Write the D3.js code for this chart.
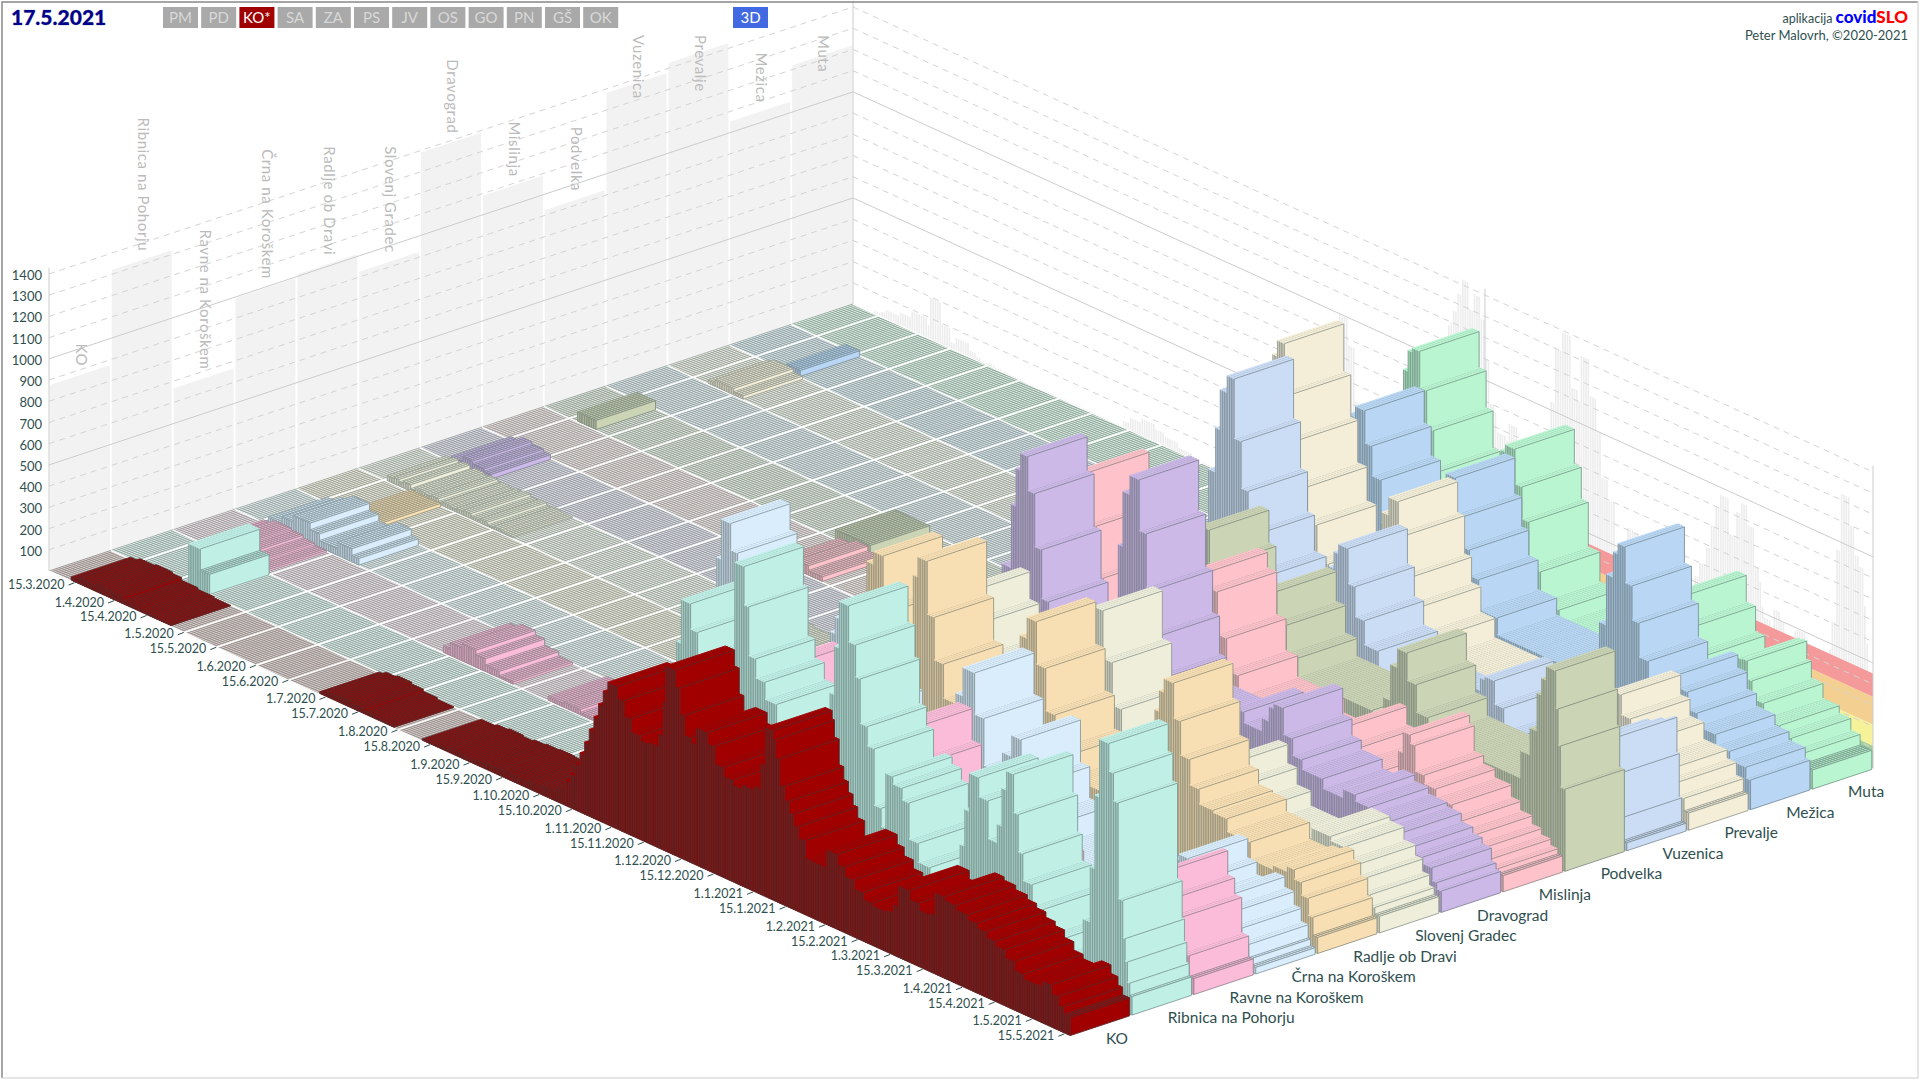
<!DOCTYPE html>
<html><head><meta charset="utf-8">
<script src="https://cdn.jsdelivr.net/npm/d3@7"></script>
<style>html,body{margin:0;padding:0;background:#fff;overflow:hidden}svg{display:block}text{font-family:Lato,"Noto Sans",sans-serif}</style>
</head><body><svg id="c" width="1920" height="1080"></svg>
<script>
const regions=["KO","Ribnica na Pohorju","Ravne na Koroškem","Črna na Koroškem","Radlje ob Dravi","Slovenj Gradec","Dravograd","Mislinja","Podvelka","Vuzenica","Prevalje","Mežica","Muta"];
const colors=["#a00000","#c0efe6","#fbbcd9","#d9edfd","#f8dfb3","#eeeedb","#ccb9e8","#fdc2ca","#ccd4b6","#cbdcf5","#f4eed8","#b9d7f4","#baf5d1"];
const dateTicks=["15.3.2020","1.4.2020","15.4.2020","1.5.2020","15.5.2020","1.6.2020","15.6.2020","1.7.2020","15.7.2020","1.8.2020","15.8.2020","1.9.2020","15.9.2020","1.10.2020","15.10.2020","1.11.2020","15.11.2020","1.12.2020","15.12.2020","1.1.2021","15.1.2021","1.2.2021","15.2.2021","1.3.2021","15.3.2021","1.4.2021","15.4.2021","1.5.2021","15.5.2021"];
const valueTicks=[100,200,300,400,500,600,700,800,900,1000,1100,1200,1300,1400];
const buttons=["PM","PD","KO*","SA","ZA","PS","JV","OS","GO","PN","GŠ","OK"];
const bandTops=[110,210,340,450];
const bandColors=["#a5cf9f","#f5f29a","#f3d092","#f59a9a"];
// runs: [day since 4.3.2020, value held until the next run]
const runsKO=[[0,0],[9,15],[13,28],[20,35],[27,28],[31,16],[38,8],[45,3],[52,0],[116,8],[119,22],[124,30],[130,22],[135,12],[141,5],[148,0],[160,5],[167,14],[172,20],[178,14],[183,22],[188,28],[194,32],[200,28],[206,32],[212,45],[218,70],[222,120],[224,160],[226,220],[228,280],[230,340],[232,410],[234,480],[236,550],[238,620],[240,672],[244,620],[247,550],[250,490],[254,470],[258,480],[262,540],[264,700],[265,875],[269,800],[271,680],[273,590],[276,570],[278,650],[283,600],[286,520],[290,480],[294,460],[298,480],[303,500],[306,620],[308,800],[311,760],[312,680],[314,560],[316,500],[318,450],[320,400],[322,350],[325,270],[331,270],[334,355],[339,310],[342,270],[346,230],[350,200],[354,190],[360,200],[363,240],[365,340],[370,300],[374,270],[379,280],[381,385],[385,370],[390,350],[395,330],[399,310],[403,285],[407,265],[411,230],[415,190],[419,170],[425,175],[427,200],[431,160],[434,120],[436,85]];
const runsRibnica=[[0,0],[33,195],[38,95],[42,0],[205,87],[215,174],[225,261],[238,261],[241,522],[243,783],[245,990],[249,870],[252,435],[256,350],[262,435],[265,870],[268,1280],[272,1100],[274,870],[277,780],[281,700],[286,522],[292,435],[300,350],[306,522],[309,870],[311,1100],[313,1320],[317,1150],[320,1000],[322,790],[325,700],[328,435],[331,350],[333,610],[336,575],[340,520],[343,350],[347,261],[352,174],[357,174],[362,261],[365,435],[367,610],[369,790],[373,700],[377,522],[381,610],[383,790],[385,880],[388,700],[390,525],[392,400],[396,300],[400,174],[405,87],[413,174],[418,348],[421,609],[423,957],[425,1230],[429,1100],[431,970],[433,520],[435,345],[436,240],[437,145],[438,87]];
const runsRavne=[[0,0],[13,18],[18,38],[25,30],[30,18],[35,9],[40,0],[116,30],[119,60],[124,80],[130,60],[134,30],[140,10],[146,0],[161,18],[168,25],[175,12],[180,0],[205,20],[215,45],[225,110],[232,210],[243,210],[250,340],[254,500],[256,610],[258,666],[263,500],[268,300],[272,200],[292,180],[302,220],[308,440],[310,560],[312,650],[318,500],[322,300],[326,200],[342,200],[348,320],[351,400],[354,450],[358,340],[362,220],[366,150],[396,150],[408,210],[416,260],[420,340],[424,440],[426,530],[428,416],[431,340],[434,173],[437,75]];
const runsCrna=[[0,0],[14,31],[20,62],[25,93],[32,62],[36,31],[44,62],[50,31],[53,0],[195,31],[200,186],[203,434],[205,620],[207,806],[209,995],[213,870],[216,620],[219,370],[222,186],[226,124],[250,186],[254,560],[256,700],[258,780],[262,620],[266,400],[270,250],[280,186],[300,248],[307,500],[310,680],[313,815],[318,620],[322,400],[326,340],[330,500],[334,600],[338,400],[342,250],[350,155],[398,217],[402,310],[404,372],[406,400],[410,310],[414,250],[422,300],[426,250],[430,186],[433,124],[436,62],[437,31]];
const runsRadlje=[[0,0],[23,16],[36,0],[210,16],[220,64],[228,160],[235,240],[240,430],[243,700],[245,880],[248,940],[252,700],[256,430],[262,500],[265,915],[267,1010],[271,760],[274,560],[278,400],[284,300],[302,350],[308,640],[311,860],[314,960],[318,760],[322,560],[326,400],[332,300],[360,336],[366,500],[369,800],[371,900],[373,965],[377,800],[380,640],[384,520],[388,450],[394,440],[400,380],[410,300],[420,320],[426,345],[429,300],[432,240],[435,160],[437,75]];
const runsSlovenjGradec=[[0,0],[12,24],[15,30],[17,18],[19,30],[22,12],[24,24],[28,18],[31,24],[34,12],[36,18],[39,12],[42,18],[45,24],[48,12],[52,18],[55,6],[58,12],[61,6],[66,0],[150,6],[160,12],[170,6],[180,0],[205,12],[215,40],[225,100],[240,200],[248,400],[252,560],[256,680],[259,730],[263,600],[267,450],[271,300],[276,220],[296,260],[304,560],[310,800],[313,885],[316,925],[320,700],[324,500],[328,360],[332,260],[354,240],[364,350],[367,420],[370,470],[374,380],[378,300],[384,230],[402,200],[406,300],[410,350],[418,330],[424,270],[429,220],[432,160],[435,110],[437,78]];
const runsDravograd=[[0,0],[13,22],[18,44],[22,33],[27,22],[30,0],[206,22],[216,60],[226,240],[236,300],[244,420],[250,700],[254,1000],[256,1180],[258,1260],[261,1100],[264,850],[267,620],[270,440],[274,320],[284,300],[292,500],[297,760],[300,1040],[302,1300],[305,1390],[309,1150],[312,900],[315,700],[318,520],[321,400],[340,300],[350,520],[354,470],[362,530],[365,600],[367,624],[371,500],[375,420],[379,375],[388,330],[397,370],[402,340],[408,310],[416,290],[422,250],[427,220],[431,190],[435,130],[437,100]];
const runsMislinja=[[0,0],[128,22],[135,44],[140,22],[146,0],[210,22],[220,90],[230,260],[240,340],[248,480],[252,780],[255,960],[258,1090],[261,850],[264,620],[267,440],[272,300],[290,300],[300,560],[304,720],[306,800],[308,873],[312,800],[316,600],[320,450],[325,350],[345,280],[362,330],[366,400],[369,445],[372,360],[376,300],[386,240],[392,320],[394,440],[396,540],[399,500],[401,380],[405,340],[410,300],[417,243],[421,200],[426,160],[430,130],[434,100],[437,76]];
const runsPodvelka=[[0,0],[14,43],[22,0],[125,43],[140,0],[215,43],[225,129],[235,300],[245,430],[270,520],[276,640],[279,760],[282,845],[286,690],[289,520],[293,430],[300,400],[306,560],[309,640],[311,700],[315,560],[319,430],[324,344],[356,300],[361,430],[364,600],[367,690],[371,560],[375,430],[380,344],[414,344],[420,473],[424,600],[427,780],[429,860],[431,925],[435,750],[436,580],[437,387]];
const runsVuzenica=[[0,0],[205,37],[215,111],[225,222],[235,300],[245,444],[254,600],[259,900],[262,1110],[264,1300],[267,1380],[270,1100],[273,880],[276,690],[279,520],[284,370],[300,333],[307,560],[311,700],[313,780],[315,825],[319,660],[322,520],[326,407],[332,300],[358,260],[366,370],[372,440],[376,500],[378,516],[382,407],[386,300],[392,222],[414,260],[422,444],[428,480],[434,516],[435,350],[436,146],[437,37]];
const runsPrevalje=[[0,0],[17,15],[20,30],[28,15],[32,0],[210,15],[220,60],[230,210],[240,360],[250,510],[254,900],[257,1200],[260,1350],[262,1425],[265,1200],[268,1000],[271,800],[275,640],[279,480],[284,360],[292,300],[300,540],[304,690],[307,840],[310,925],[314,780],[317,600],[320,480],[324,360],[330,270],[352,240],[392,240],[400,360],[403,450],[406,494],[410,400],[414,320],[420,240],[430,200],[434,140],[437,81]];
const runsMezica=[[0,0],[24,28],[30,0],[215,28],[225,112],[235,280],[245,392],[255,560],[262,900],[266,1000],[269,1052],[273,900],[276,760],[280,560],[286,420],[294,420],[302,700],[306,860],[308,930],[312,760],[315,620],[318,500],[322,360],[330,280],[358,252],[368,336],[374,560],[377,800],[380,920],[382,970],[385,800],[388,640],[391,480],[395,340],[400,330],[405,482],[408,420],[412,340],[416,280],[424,230],[430,190],[437,140]];
const runsMuta=[[0,0],[205,30],[215,90],[225,300],[235,420],[245,540],[255,690],[260,960],[263,1100],[265,1200],[267,1220],[270,1050],[273,876],[276,700],[279,520],[283,390],[288,330],[298,660],[302,820],[305,930],[307,964],[311,800],[314,650],[317,440],[322,300],[330,240],[350,240],[365,330],[372,450],[376,570],[379,620],[381,645],[385,520],[389,400],[393,300],[398,260],[404,420],[407,460],[409,465],[411,380],[413,300],[418,230],[425,195],[430,140],[434,90]];
const allRuns=[runsKO,runsRibnica,runsRavne,runsCrna,runsRadlje,runsSlovenjGradec,runsDravograd,runsMislinja,runsPodvelka,runsVuzenica,runsPrevalje,runsMezica,runsMuta];

const startDay=new Date(2020,2,4), nDays=439, bandStart=300, axisTop=1430, wallMark=272;
const parse=d3.timeParse("%-d.%-m.%Y");
const series=allRuns.map(r=>{const a=new Array(nDays).fill(0);r.forEach((p,k)=>{const e=k+1<r.length?r[k+1][0]:nDays;for(let d=p[0];d<e;d++)a[d]=p[1];});return a;});
const maxByRegion=series.map(s=>d3.max(s));
const maxByDay=d3.range(nDays).map(d=>d3.max(series,s=>s[d]));

const dayX=d3.scaleLinear().domain([0,nDays]).range([0,1020]),dayY=d3.scaleLinear().domain([0,nDays]).range([0,465]);
const regX=d3.scaleLinear().domain([0,regions.length]).range([0,804]),regY=d3.scaleLinear().domain([0,regions.length]).range([0,-267]);
const valH=d3.scaleLinear().domain([0,1400]).range([0,297]);
const P=(d,r,v=0)=>[49+dayX(d)+regX(r),571+dayY(d)+regY(r)-valH(v)];
const poly=pts=>"M"+pts.map(p=>p[0].toFixed(2)+","+p[1].toFixed(2)).join("L")+"Z";
const svg=d3.select("#c");
const ink="#2f4f4f";
const last=regions.length;

// walls
const left=svg.append("g");
left.selectAll("path").data(regions).join("path").attr("fill","#f2f2f2")
 .attr("d",(n,i)=>poly([P(0,i+.015),P(0,i+.985),P(0,i+.985,maxByRegion[i]),P(0,i+.015,maxByRegion[i])]));
const right=svg.append("g");
right.selectAll("path.s").data(maxByDay).join("path").attr("class","s").attr("fill","#ededed")
 .attr("d",(v,d)=>poly([P(d+.15,last),P(d+.85,last),P(d+.85,last,v),P(d+.15,last,v)]));
bandTops.forEach((t,k)=>{const lo=k?bandTops[k-1]:0;right.append("path").attr("fill",bandColors[k])
 .attr("d",poly([P(bandStart,last,lo),P(nDays,last,lo),P(nDays,last,t),P(bandStart,last,t)]));});
const grid=svg.append("g").attr("fill","none");
valueTicks.forEach(v=>{const solid=v%500===0;
 grid.append("path").attr("d",d3.line()([P(0,0,v),P(0,last,v),P(nDays,last,v)])).attr("stroke",solid?"#ccc":"#d4d4d4").attr("stroke-dasharray",solid?null:"6,5");
});
[[0,0],[0,last],[wallMark,last],[nDays,last]].forEach(c=>grid.append("line").attr("x1",P(c[0],c[1])[0]).attr("y1",P(c[0],c[1])[1]).attr("x2",P(c[0],c[1])[0]).attr("y2",P(c[0],c[1],axisTop)[1]).attr("stroke","#ccc"));

// wall labels, kept below the top of the chart
svg.append("g").selectAll("text").data(regions).join("text").attr("fill","#bbb").attr("font-size",15).attr("letter-spacing",.6)
 .attr("dominant-baseline","middle").text(n=>n)
 .attr("transform",function(n,i){const p=P(0,i+.5,maxByRegion[i]),w=this.getComputedTextLength();return `translate(${p[0]},${Math.max(35,p[1]-9-w)}) rotate(90)`;});

// floor: zero-value days
const cells=[];
series.forEach((s,i)=>s.forEach((v,d)=>cells.push({i,d,v})));
const floorFill=regions.map((n,i)=>d3.interpolateRgb(colors[i],"#fff")(i===0?.85:.7));
const strokeOf=regions.map((n,i)=>i===0?"#5e2626":d3.interpolateRgb(colors[i],"#4a5a58")(.55));
const sideOf=regions.map((n,i)=>i===0?"#7a1212":d3.color(colors[i]).darker(.5).formatHex());
const floorStroke=regions.map((n,i)=>d3.interpolateRgb(i===0?"#a06060":colors[i],"#7d8c85")(.88));
svg.append("g").attr("stroke-width",.8).selectAll("path").data(cells.filter(c=>c.v===0)).join("path")
 .attr("fill",c=>floorFill[c.i]).attr("stroke",c=>floorStroke[c.i])
 .attr("d",c=>poly([P(c.d,c.i),P(c.d+1,c.i),P(c.d+1,c.i+1),P(c.d,c.i+1)]));
// white floor grid
const tickDays=dateTicks.map(t=>d3.timeDay.count(startDay,parse(t)));
const white=svg.append("g").attr("stroke","#fff").attr("stroke-width",1.5).attr("fill","none");
tickDays.forEach(d=>white.append("path").attr("d",d3.line()([P(d,0),P(d,last)])));
d3.range(0,last+1).forEach(r=>white.append("path").attr("d",d3.line()([P(0,r),P(nDays,r)])));

// bars, painted far to near
const bars=cells.filter(c=>c.v>0).sort((a,b)=>d3.descending(a.i,b.i)||d3.ascending(a.d,b.d));
const g=svg.append("g").attr("stroke-width",.9).attr("stroke-linejoin","round");
const a=.02,b=.98;
const faces=[];
bars.forEach(c=>{const{i,d,v}=c;
 faces.push({i,f:sideOf[i],s:1,p:[P(d,i+a),P(d+1,i+a),P(d+1,i+a,v),P(d,i+a,v)]});
 faces.push({i,f:colors[i],s:v<100?1:0,p:[P(d,i+a,v),P(d+1,i+a,v),P(d+1,i+b,v),P(d,i+b,v)]});
 faces.push({i,f:colors[i],s:1,p:[P(d+1,i+a),P(d+1,i+b),P(d+1,i+b,v),P(d+1,i+a,v)]});
});
g.selectAll("path").data(faces).join("path").attr("fill",q=>q.f).attr("stroke",q=>q.s?strokeOf[q.i]:q.f).attr("d",q=>poly(q.p));

// axes text
const ax=svg.append("g").attr("fill",ink);
valueTicks.forEach(v=>ax.append("text").attr("x",42).attr("y",P(0,0,v)[1]+6).attr("text-anchor","end").attr("font-size",13).text(v));
dateTicks.forEach((t,k)=>{const p=P(tickDays[k],0);
 ax.append("line").attr("x1",p[0]).attr("y1",p[1]).attr("x2",p[0]-6).attr("y2",p[1]+2.4).attr("stroke",ink);
 ax.append("text").attr("x",p[0]-10).attr("y",p[1]+6).attr("text-anchor","end").attr("font-size",12.5).text(t);});
regions.forEach((n,i)=>{const p=P(nDays,i+.5);
 ax.append("text").attr("x",p[0]+6).attr("y",p[1]+18).attr("font-size",15.5).text(n);});

// header
const h=svg.append("g");
h.append("text").attr("x",11).attr("y",25).attr("font-size",21).attr("font-weight",900).attr("fill","#00008b").attr("style","paint-order:stroke").attr("stroke","#aab").attr("stroke-width",.6).text("17.5.2021");
buttons.forEach((t,k)=>{const x=163+k*38.2,on=t==="KO*";
 h.append("rect").attr("x",x).attr("y",7).attr("width",35).attr("height",21).attr("fill",on?"#a00000":"#a9a9a9");
 h.append("text").attr("x",x+17.5).attr("y",23).attr("text-anchor","middle").attr("font-size",15).attr("fill",on?"#fff":"#d8d8d8").text(t);});
h.append("rect").attr("x",733).attr("y",7).attr("width",35).attr("height",21).attr("fill","#4169e1");
h.append("text").attr("x",750.5).attr("y",23).attr("text-anchor","middle").attr("font-size",15).attr("fill","#fff").text("3D");
const cr=h.append("text").attr("x",1908).attr("y",23).attr("text-anchor","end");
cr.append("tspan").attr("font-size",12.5).attr("fill",ink).text("aplikacija ");
cr.append("tspan").attr("font-size",17).attr("font-weight",900).attr("fill","#0000ff").text(" covid");
cr.append("tspan").attr("font-size",17).attr("font-weight",900).attr("fill","#ff0000").text("SLO");
h.append("text").attr("x",1908).attr("y",40).attr("text-anchor","end").attr("font-size",13).attr("fill",ink).text("Peter Malovrh, ©2020-2021");
// frame
const fr=svg.append("g").attr("fill","none");
fr.append("path").attr("d","M2,1078V2H1918").attr("stroke","#888").attr("stroke-width",1.5);
fr.append("path").attr("d","M2,1078H1918V2").attr("stroke","#ddd").attr("stroke-width",1.5);
</script></body></html>
